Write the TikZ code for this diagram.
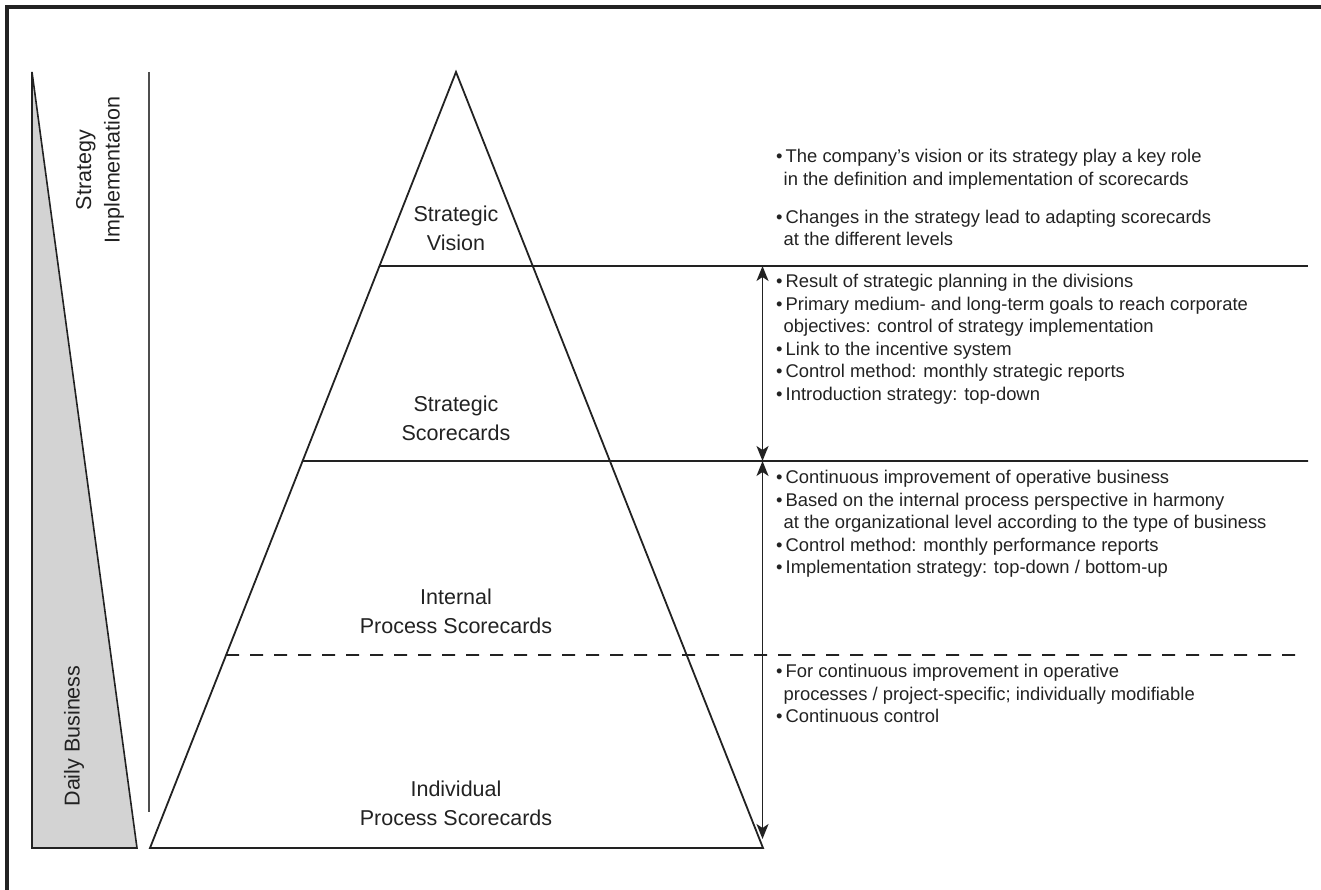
\documentclass[tikz,border=0pt]{standalone}
\usepackage{fontspec}
\setmainfont{Liberation Sans}
\usetikzlibrary{calc,arrows.meta}
\definecolor{ink}{HTML}{222222}
\definecolor{wedgefill}{HTML}{D3D3D3}
\newcommand\itembul{\makebox[9.5pt][l]{•}}
\newcommand\itemcont{\hspace*{7.5pt}}
\begin{document}
\begin{tikzpicture}[x=1pt,y=-1pt,
  every node/.style={text=ink},
  tier/.style={align=center, anchor=north, inner sep=0pt, font=\fontsize{21.5}{28.5}\selectfont},
  side/.style={align=center, rotate=90, inner sep=0pt, font=\fontsize{21.5}{28.5}\selectfont},
  notes/.style={align=left, anchor=north west, inner sep=0pt, font=\fontsize{18.4}{22.6}\selectfont},
  rule/.style={draw=ink, line width=1.8pt},
  guide/.style={draw=ink!80, line width=1.5pt},
  span/.style={draw=ink, line width=1.8pt,
    {Stealth[length=15pt,width=12pt,inset=4pt]}-{Stealth[length=15pt,width=12pt,inset=4pt]}}
]
\useasboundingbox (0,0) rectangle (1321,890);

% outer frame (top and left edges)
\draw[ink, line width=3.5pt] (1321,7) -- (7,7) -- (7,890);

% shaded wedge and guide line on the left
\coordinate (wtop) at (32,72);
\coordinate (wbl) at (32,848);
\coordinate (wbr) at (137,848);
\filldraw[fill=wedgefill, draw=ink, line width=1.6pt] (wtop) -- (wbl) -- (wbr) -- cycle;
\coordinate (gtop) at (149,72);
\coordinate (gbot) at (149,812);
\draw[guide] (gtop) -- (gbot);

\node[side] (strat) at (100,170) {Strategy\\Implementation};
\node[side] (daily) at (74,736) {Daily Business};

% pyramid
\coordinate (apex) at (456,72);
\coordinate (bl) at (150,848);
\coordinate (br) at (763,848);
\draw[rule, line join=miter] (apex) -- (bl) -- (br) -- cycle;

% level separators
\coordinate (s1) at ($(apex)!{194/776}!(bl)$);
\coordinate (s2) at ($(apex)!{389/776}!(bl)$);
\coordinate (s3) at ($(apex)!{583/776}!(bl)$);
\coordinate (e1) at (1308,266);
\coordinate (e2) at (1308,461);
\coordinate (e3) at (1306,655);
\draw[rule] (s1) -- (e1);
\draw[rule] (s2) -- (e2);
\draw[rule, line width=1.6pt, dash pattern=on 13pt off 11pt] (s3) -- (e3);

% level names
\node[tier] (vision) at (456,206) {Strategic\\Vision};
\node[tier] (stsc) at (456,396) {Strategic\\Scorecards};
\node[tier] (ipsc) at (456,589) {Internal\\Process Scorecards};
\node[tier] (indsc) at (456,781) {Individual\\Process Scorecards};

% range arrows
\coordinate (a1) at (762.5,266);
\coordinate (a2) at (762.5,461);
\coordinate (a3) at (762.5,839);
\draw[span] (a1) -- (a2);
\draw[span] (a2) -- (a3);

% descriptions
\node[notes] (n1) at (776,149) {%
\itembul The company’s vision or its strategy play a key role\\
\itemcont in the definition and implementation of scorecards\\[15.5pt]
\itembul Changes in the strategy lead to adapting scorecards\\
\itemcont at the different levels};

\node[notes] (n2) at (776,274) {%
\itembul Result of strategic planning in the divisions\\
\itembul Primary medium- and long-term goals to reach corporate\\
\itemcont objectives: control of strategy implementation\\
\itembul Link to the incentive system\\
\itembul Control method: monthly strategic reports\\
\itembul Introduction strategy: top-down};

\node[notes] (n3) at (776,470) {%
\itembul Continuous improvement of operative business\\
\itembul Based on the internal process perspective in harmony\\
\itemcont at the organizational level according to the type of business\\
\itembul Control method: monthly performance reports\\
\itembul Implementation strategy: top-down / bottom-up};

\node[notes] (n4) at (776,664) {%
\itembul For continuous improvement in operative\\
\itemcont processes / project-specific; individually modifiable\\
\itembul Continuous control};
\end{tikzpicture}
\end{document}
